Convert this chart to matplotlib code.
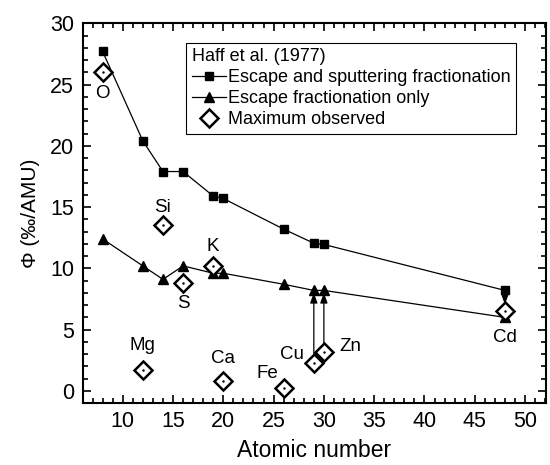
import matplotlib
matplotlib.use("Agg")
import matplotlib.pyplot as plt
from matplotlib.ticker import MultipleLocator

plt.rcParams["font.family"] = ["Liberation Sans", "DejaVu Sans"]

# Haff et al. (1977) model curves
z_model = [8, 12, 14, 16, 19, 20, 26, 29, 30, 48]
phi_sputter = [27.7, 20.4, 17.9, 17.9, 15.9, 15.7, 13.2, 12.05, 11.95, 8.2]
phi_escape = [12.4, 10.2, 9.1, 10.2, 9.6, 9.6, 8.7, 8.2, 8.2, 6.0]

# maximum observed
elements = ["O", "Mg", "Si", "S", "K", "Ca", "Fe", "Cu", "Zn", "Cd"]
z_obs = [8, 12, 14, 16, 19, 20, 26, 29, 30, 48]
phi_obs = [26.0, 1.7, 13.5, 8.8, 10.2, 0.8, 0.2, 2.3, 3.2, 6.5]

# label offsets (points) for element names
label_off = {"O": (0, -15), "Mg": (0, 18), "Si": (0, 13), "S": (0, -14.5),
             "K": (0, 13.7), "Ca": (0, 16), "Fe": (-11.5, 11), "Cu": (-16, 6),
             "Zn": (19, 4), "Cd": (0, -19)}

fig, ax = plt.subplots(figsize=(5.5, 4.65), dpi=100)
fig.subplots_adjust(left=0.15, right=0.993, top=0.95, bottom=0.133)

ax.plot(z_model, phi_sputter, "-", color="black", lw=0.9, marker="s", ms=6,
        label="Escape and sputtering fractionation")
ax.plot(z_model, phi_escape, "-", color="black", lw=0.9, marker="^", ms=7,
        label="Escape fractionation only")
ax.plot(z_obs, phi_obs, "D", mfc="white", mec="black", mew=1.8, ms=9.5,
        linestyle="none", label="Maximum observed")
ax.plot(z_obs, phi_obs, ".", color="black", ms=1.5, linestyle="none")

for name, z, p in zip(elements, z_obs, phi_obs):
    ax.annotate(name, (z, p), xytext=label_off[name], textcoords="offset points",
                ha="center", va="center", fontsize=13.5)

# arrows: observed lower limits up to model
arrows = [(29, 2.95, 8.0), (30, 3.85, 8.0), (48, 7.7, 7.05)]
for z, y0, y1 in arrows:
    ax.annotate("", xy=(z, y1), xytext=(z, y0),
                arrowprops=dict(arrowstyle="-|>,head_length=0.6,head_width=0.22",
                                color="black", lw=0.9,
                                mutation_scale=10, shrinkA=0, shrinkB=0))

ax.set_xlim(6, 52.1)
ax.set_ylim(-1, 30)
ax.xaxis.set_major_locator(MultipleLocator(5))
ax.xaxis.set_minor_locator(MultipleLocator(1))
ax.yaxis.set_major_locator(MultipleLocator(5))
ax.yaxis.set_minor_locator(MultipleLocator(1))
ax.tick_params(which="both", direction="in", top=True, right=True, width=1.2)
ax.tick_params(which="major", length=6, labelsize=15.5, pad=6)
ax.tick_params(which="minor", length=3.5)
for s in ax.spines.values():
    s.set_linewidth(1.5)

ax.set_xlabel("Atomic number", fontsize=16.5, labelpad=5)
ax.set_ylabel("Φ (‰/AMU)", fontsize=15, labelpad=7)

leg = ax.legend(title="Haff et al. (1977)", loc="upper right",
                bbox_to_anchor=(0.935, 0.948), fontsize=13,
                title_fontsize=13, fancybox=False, edgecolor="black",
                framealpha=1, handlelength=1.9, handletextpad=0.1,
                borderpad=0.3, labelspacing=0.22, borderaxespad=0)
leg._legend_box.align = "left"
leg.get_frame().set_linewidth(0.8)

fig.savefig("out.png", dpi=100)
